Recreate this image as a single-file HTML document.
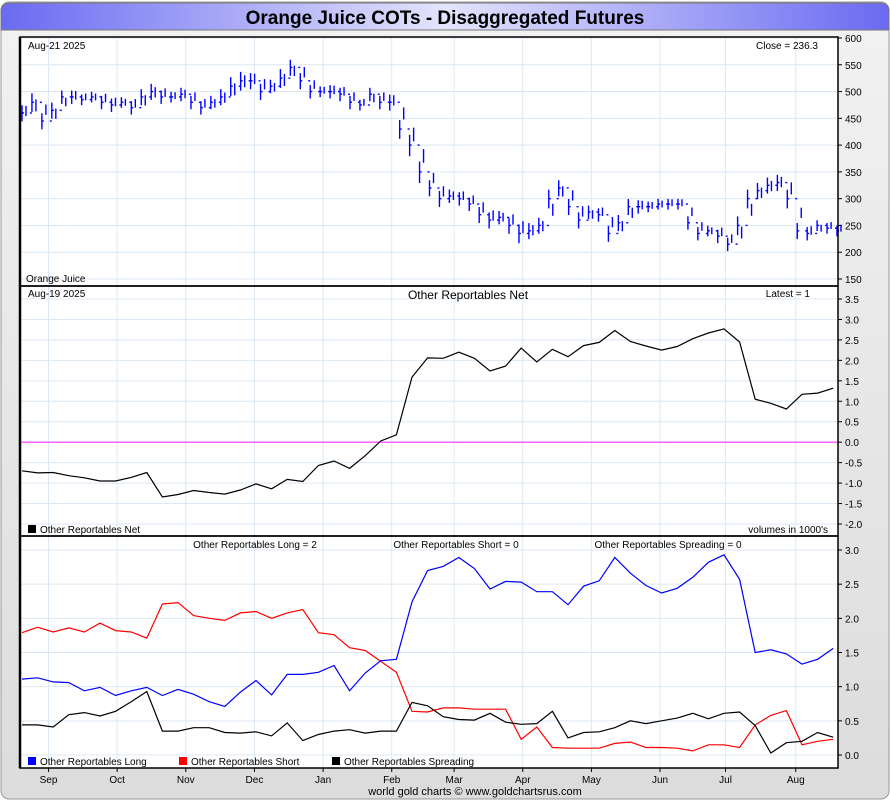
<!DOCTYPE html>
<html><head><meta charset="utf-8"><style>
body{margin:0;background:#fff;font-family:"Liberation Sans",sans-serif;}
svg text{font-family:"Liberation Sans",sans-serif;}
</style></head><body>
<svg id="c" width="890" height="800" xmlns="http://www.w3.org/2000/svg">
<defs>
<linearGradient id="tg" x1="0" x2="1" y1="0" y2="0">
<stop offset="0" stop-color="#6a6af2"/><stop offset="0.5" stop-color="#e4e4fc"/><stop offset="1" stop-color="#6a6af2"/>
</linearGradient>
<linearGradient id="bg" x1="0" x2="0" y1="0" y2="1">
<stop offset="0" stop-color="#f2f2f2"/><stop offset="1" stop-color="#dcdcdc"/>
</linearGradient>
</defs>
<rect x="0" y="0" width="890" height="800" fill="#fff"/>
<rect x="1" y="2" width="888" height="797" rx="8" fill="url(#bg)" stroke="#999"/>
<path d="M1 30 V12 Q1 3 10 3 H880 Q889 3 889 12 V30 Z" fill="url(#tg)" stroke="#777"/>
<text x="445" y="24" text-anchor="middle" font-size="19" font-weight="bold" fill="#000">Orange Juice COTs - Disaggregated Futures</text>
<g id="g"></g>
<text x="475" y="795" text-anchor="middle" font-size="11">world gold charts © www.goldchartsrus.com</text>
</svg>
<script>
// ---- data ----
const months = ["Sep","Oct","Nov","Dec","Jan","Feb","Mar","Apr","May","Jun","Jul","Aug"];
const monthPos = [1.7,6.1,10.5,14.9,19.3,23.7,27.7,32.1,36.5,40.9,45.1,49.6]; // week index of month start
const priceTicks = [150,200,250,300,350,400,450,500,550,600];
const netTicks = [-2.0,-1.5,-1.0,-0.5,0.0,0.5,1.0,1.5,2.0,2.5,3.0,3.5];
const posTicks = [0.0,0.5,1.0,1.5,2.0,2.5,3.0];
const priceClose = [460,480,445,465,490,490,485,490,480,475,480,470,490,500,490,490,495,480,470,480,490,510,520,520,500,510,525,545,520,500,500,500,495,480,475,495,480,480,430,400,350,320,300,305,300,290,270,260,265,250,235,240,250,300,320,285,260,275,270,235,255,285,285,285,290,290,290,255,235,240,230,215,250,300,315,325,330,300,240,235,250,245,240];
const priceRange = [12,14,12,12,10,10,8,8,10,10,8,10,12,12,10,8,10,10,10,10,12,14,14,12,12,10,14,12,12,10,8,10,10,10,8,10,10,12,14,16,16,12,12,10,10,10,12,12,10,12,14,12,12,14,12,12,12,10,10,12,12,12,10,8,8,8,8,10,10,8,10,10,14,14,12,12,12,14,12,10,8,8,8];
const netValues = [-0.70,-0.75,-0.74,-0.82,-0.87,-0.95,-0.95,-0.86,-0.74,-1.34,-1.28,-1.18,-1.23,-1.27,-1.17,-1.02,-1.14,-0.91,-0.96,-0.57,-0.46,-0.64,-0.33,0.03,0.18,1.59,2.06,2.05,2.20,2.05,1.74,1.86,2.30,1.96,2.27,2.09,2.36,2.44,2.73,2.46,2.35,2.25,2.34,2.53,2.67,2.77,2.45,1.05,0.95,0.81,1.17,1.20,1.32];
const longValues = [1.11,1.13,1.07,1.06,0.94,0.99,0.87,0.94,0.99,0.87,0.96,0.89,0.78,0.71,0.92,1.09,0.88,1.18,1.18,1.21,1.31,0.94,1.20,1.38,1.40,2.24,2.70,2.76,2.89,2.73,2.43,2.54,2.53,2.39,2.39,2.20,2.47,2.55,2.89,2.66,2.48,2.37,2.44,2.60,2.82,2.93,2.57,1.50,1.54,1.48,1.33,1.40,1.56];
const shortValues = [1.79,1.87,1.80,1.86,1.80,1.93,1.82,1.80,1.71,2.21,2.23,2.04,2.00,1.97,2.08,2.10,2.00,2.08,2.13,1.79,1.76,1.57,1.53,1.37,1.21,0.64,0.63,0.69,0.69,0.67,0.67,0.67,0.23,0.41,0.11,0.10,0.10,0.10,0.17,0.19,0.11,0.11,0.10,0.06,0.15,0.15,0.11,0.44,0.58,0.65,0.15,0.20,0.23];
const spreadValues = [0.44,0.44,0.41,0.59,0.62,0.57,0.64,0.78,0.93,0.35,0.35,0.40,0.40,0.33,0.32,0.34,0.28,0.47,0.21,0.30,0.35,0.37,0.32,0.35,0.35,0.77,0.72,0.56,0.52,0.51,0.61,0.48,0.45,0.46,0.64,0.25,0.33,0.34,0.40,0.50,0.46,0.50,0.54,0.61,0.53,0.61,0.63,0.43,0.03,0.18,0.20,0.33,0.26];

// ---- layout ----
const NS="http://www.w3.org/2000/svg";
const G=document.getElementById('g');
const X0=20,X1=838;
function mk(tag,attrs,parent){const e=document.createElementNS(NS,tag);for(const k in attrs)e.setAttribute(k,attrs[k]);(parent||G).appendChild(e);return e;}
function txt(x,y,s,size,anchor,name){const t=mk('text',{x:x,y:y,'font-size':size,'text-anchor':anchor||'start',fill:'#000'});t.textContent=s;


return t;}
const wx = i => 22 + i*15.6;            // weekly x
const px = i => 22 + i*(815/(priceClose.length-1)); // price bar x
const panels=[
 {top:37,bot:286,min:150,max:600,y0:38,y1:279,ticks:priceTicks,fmt:v=>String(v)},
 {top:286,bot:536,min:-2.0,max:3.5,y0:524,y1:299,ticks:netTicks,fmt:v=>v.toFixed(1)},
 {top:536,bot:768,min:0,max:3.0,y0:755,y1:550,ticks:posTicks,fmt:v=>v.toFixed(1)}
];
const yP=v=>38+(600-v)*(241/450);
const yN=v=>524-(v+2)*(225/5.5);
const yQ=v=>755-v*(205/3);
const yf=[yP,yN,yQ];
panels.forEach((p,pi)=>{
  const r=mk('rect',{x:X0,y:p.top,width:X1-X0,height:p.bot-p.top,fill:'#fff'});
  
  
  p.ticks.forEach(v=>{
    const y=yf[pi](v);
    const l=mk('line',{x1:X0,x2:X1,y1:y,y2:y,stroke:'#dce8f4','stroke-width':1});
    
    
    mk('line',{x1:X1,x2:X1+4,y1:y,y2:y,stroke:'#000'});
    txt(845,y+4,p.fmt(v),10,'start','y-tick-label');
  });
  monthPos.forEach(m=>{
    const x=wx(m);
    const l=mk('line',{x1:x,x2:x,y1:p.top,y2:p.bot,stroke:'#dce8f4','stroke-width':1});
    
    
  });
});
// price bars
const pb=mk('g',{stroke:'#0000ff','stroke-width':1.4});


priceClose.forEach((c,i)=>{
  const x=px(i),h=c+priceRange[i]*1.2,l=c-priceRange[i]*1.3;
  const b=mk('line',{x1:x,x2:x,y1:yP(h),y2:yP(l)},pb);
  
  
  mk('line',{x1:x,x2:x+2,y1:yP(c),y2:yP(c)},pb);
  const o=i>0?priceClose[i-1]:c;
  mk('line',{x1:x-2,x2:x,y1:yP(o),y2:yP(o)},pb);
  const mid=(c+o)/2+priceRange[i]*0.4;
  const b2=mk('line',{x1:x+4,x2:x+4,y1:yP(mid+priceRange[i]*0.7),y2:yP(mid-priceRange[i]*0.9)},pb);
  
  
});
// zero line
const z=mk('line',{x1:X0,x2:X1,y1:yN(0),y2:yN(0),stroke:'#ff33ff','stroke-width':1.2});


function series(vals,f,color,name){
  const d=vals.map((v,i)=>(i?'L':'M')+wx(i).toFixed(1)+' '+f(v).toFixed(1)).join(' ');
  const p=mk('path',{d:d,fill:'none',stroke:color,'stroke-width':1.2});
  
  
}
series(netValues,yN,'#000','net-line');
series(shortValues,yQ,'#ff0000','short-line');
series(spreadValues,yQ,'#000','spreading-line');
series(longValues,yQ,'#0000ff','long-line');
// panel borders
panels.forEach(p=>{const r=mk('rect',{x:X0,y:p.top,width:X1-X0,height:p.bot-p.top,fill:'none',stroke:'#000','stroke-width':1.5});

});
mk('line',{x1:X0,x2:X0,y1:37,y2:768,stroke:'#000','stroke-width':2.5});
// x axis
months.forEach((m,i)=>{const x=wx(monthPos[i]);mk('line',{x1:x,x2:x,y1:768,y2:772,stroke:'#000'});txt(x,783,m,10,'middle','x-tick-label');});
// labels
txt(28,49,'Aug-21  2025',10,'start','price-date');
txt(818,49,'Close = 236.3',10,'end','close-label');
txt(26,282,'Orange Juice',10,'start','price-panel-label');
txt(28,297,'Aug-19  2025',10,'start','cot-date');
txt(468,299,'Other Reportables Net',12,'middle','net-panel-title');
txt(810,297,'Latest = 1',10,'end','latest-label');
txt(828,533,'volumes in 1000\'s',10,'end','volume-note');
function leg(x,y,color,s,name){const r=mk('rect',{x:x,y:y-8,width:8,height:8,fill:color});txt(x+12,y,s,10,'start',name);}
leg(28,533,'#000','Other Reportables Net','legend-net');
txt(255,548,'Other Reportables Long = 2',10,'middle','long-latest');
txt(456,548,'Other Reportables Short = 0',10,'middle','short-latest');
txt(668,548,'Other Reportables Spreading = 0',10,'middle','spreading-latest');
leg(28,765,'#0000ff','Other Reportables Long','legend-long');
leg(179,765,'#ff0000','Other Reportables Short','legend-short');
leg(332,765,'#000','Other Reportables Spreading','legend-spreading');
</script>
</body></html>
